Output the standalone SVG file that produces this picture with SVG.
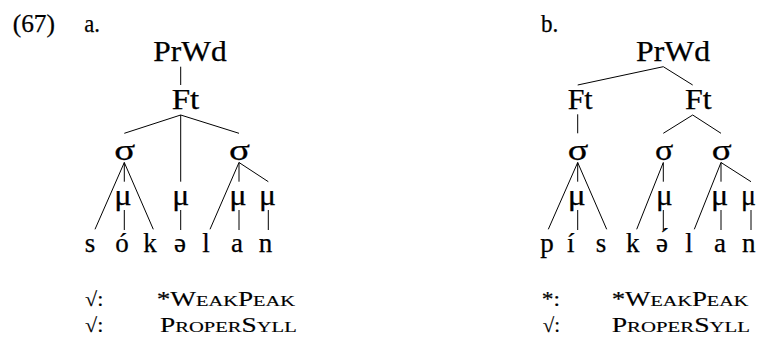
<svg xmlns="http://www.w3.org/2000/svg" width="757" height="345" viewBox="0 0 757 345">
<style>
text{font-family:"Liberation Serif","Times New Roman",serif;fill:#000;stroke:#000;stroke-width:0.25}
.num{font-size:25px}
.lbl{font-size:29px}
.syl{font-size:29px}
.mu{font-size:29px}
.seg{font-size:27px;text-anchor:middle}
.ev{font-size:20px;stroke-width:0.15}
.sc{font-size:15px}
#connectors line{stroke:#000;stroke-width:1;fill:none}
</style>
<rect width="757" height="345" fill="#fff"/>
<g id="labels">
<text class="num" x="12.7" y="31.5" textLength="42.3" lengthAdjust="spacingAndGlyphs">(67)</text>
<text class="num" x="84.3" y="31.5" textLength="15.7" lengthAdjust="spacingAndGlyphs">a.</text>
<text class="num" x="541" y="31.5" textLength="17.3" lengthAdjust="spacingAndGlyphs">b.</text>
</g>
<g id="connectors">
<line x1="180.7" y1="66.7" x2="180.7" y2="85"/>
<line x1="180.7" y1="115" x2="124.3" y2="133.3"/>
<line x1="180.7" y1="115" x2="239" y2="133.3"/>
<line x1="180.7" y1="115" x2="180.7" y2="181.7"/>
<line x1="124.3" y1="162.5" x2="95" y2="229.3"/>
<line x1="124.3" y1="162.5" x2="124.3" y2="181.7"/>
<line x1="124.3" y1="162.5" x2="153.3" y2="229.3"/>
<line x1="124.3" y1="210" x2="124.3" y2="230"/>
<line x1="180.7" y1="210" x2="180.7" y2="230"/>
<line x1="239" y1="162.5" x2="210" y2="229.3"/>
<line x1="239" y1="162.5" x2="239" y2="181.7"/>
<line x1="239" y1="162.5" x2="268.3" y2="181.7"/>
<line x1="239" y1="210" x2="239" y2="230"/>
<line x1="268.3" y1="210" x2="268.3" y2="230"/>
<line x1="663.3" y1="66.7" x2="577.7" y2="85"/>
<line x1="663.3" y1="66.7" x2="692.7" y2="85"/>
<line x1="577.7" y1="114.3" x2="577.7" y2="133.3"/>
<line x1="692.7" y1="115" x2="663.3" y2="133.3"/>
<line x1="692.7" y1="115" x2="721" y2="133.3"/>
<line x1="577.7" y1="162.5" x2="548.3" y2="229.3"/>
<line x1="577.7" y1="162.5" x2="577.7" y2="181.7"/>
<line x1="577.7" y1="162.5" x2="606.7" y2="229.3"/>
<line x1="577.7" y1="210" x2="577.7" y2="230"/>
<line x1="663.3" y1="162.5" x2="636.7" y2="229.3"/>
<line x1="663.3" y1="162.5" x2="663.3" y2="181.7"/>
<line x1="663.3" y1="210" x2="663.3" y2="230"/>
<line x1="721" y1="162.5" x2="694.3" y2="229.3"/>
<line x1="721" y1="162.5" x2="721" y2="181.7"/>
<line x1="721" y1="162.5" x2="751" y2="181.7"/>
<line x1="721" y1="210" x2="721" y2="230"/>
<line x1="751" y1="210" x2="751" y2="230"/>
</g>
<g id="a-prwd"><text class="lbl" x="153.3" y="61" textLength="73.4" lengthAdjust="spacingAndGlyphs">PrWd</text></g>
<g id="a-ft"><text class="lbl" x="171.7" y="109.3" textLength="27.6" lengthAdjust="spacingAndGlyphs">Ft</text></g>
<g id="a-syl1"><text class="syl" x="114.3" y="160" textLength="21" lengthAdjust="spacingAndGlyphs">σ</text></g>
<g id="a-syl2"><text class="syl" x="229" y="160" textLength="21" lengthAdjust="spacingAndGlyphs">σ</text></g>
<g id="a-mu1"><text class="mu" x="114.3" y="205" textLength="17.4" lengthAdjust="spacingAndGlyphs">μ</text></g>
<g id="a-mu2"><text class="mu" x="172.3" y="205" textLength="17" lengthAdjust="spacingAndGlyphs">μ</text></g>
<g id="a-mu3"><text class="mu" x="229.3" y="205" textLength="17.4" lengthAdjust="spacingAndGlyphs">μ</text></g>
<g id="a-mu4"><text class="mu" x="259" y="205" textLength="17" lengthAdjust="spacingAndGlyphs">μ</text></g>
<g id="a-s"><text class="seg" x="90" y="251.7">s</text></g>
<g id="a-o"><text class="seg" x="122" y="251.7">ó</text></g>
<g id="a-k"><text class="seg" x="150" y="251.7">k</text></g>
<g id="a-schwa"><text class="seg" x="180" y="251.7">ə</text></g>
<g id="a-l"><text class="seg" x="206" y="251.7">l</text></g>
<g id="a-a"><text class="seg" x="237" y="251.7">a</text></g>
<g id="a-n"><text class="seg" x="265.5" y="251.7">n</text></g>
<g id="b-prwd"><text class="lbl" x="636" y="61" textLength="74" lengthAdjust="spacingAndGlyphs">PrWd</text></g>
<g id="b-ft1"><text class="lbl" x="567.7" y="109.3" textLength="25" lengthAdjust="spacingAndGlyphs">Ft</text></g>
<g id="b-ft2"><text class="lbl" x="685" y="109.3" textLength="26.7" lengthAdjust="spacingAndGlyphs">Ft</text></g>
<g id="b-syl1"><text class="syl" x="567.7" y="160" textLength="20.6" lengthAdjust="spacingAndGlyphs">σ</text></g>
<g id="b-syl2"><text class="syl" x="655" y="160" textLength="18.3" lengthAdjust="spacingAndGlyphs">σ</text></g>
<g id="b-syl3"><text class="syl" x="711.7" y="160" textLength="20" lengthAdjust="spacingAndGlyphs">σ</text></g>
<g id="b-mu1"><text class="mu" x="567.7" y="205" textLength="18" lengthAdjust="spacingAndGlyphs">μ</text></g>
<g id="b-mu2"><text class="mu" x="656" y="205" textLength="16.7" lengthAdjust="spacingAndGlyphs">μ</text></g>
<g id="b-mu3"><text class="mu" x="711" y="205" textLength="17.3" lengthAdjust="spacingAndGlyphs">μ</text></g>
<g id="b-mu4"><text class="mu" x="741" y="205" textLength="15" lengthAdjust="spacingAndGlyphs">μ</text></g>
<g id="b-p"><text class="seg" x="547" y="251.7">p</text></g>
<g id="b-i"><text class="seg" x="570.7" y="251.7">í</text></g>
<g id="b-s"><text class="seg" x="601" y="251.7">s</text></g>
<g id="b-k"><text class="seg" x="632.7" y="251.7">k</text></g>
<g id="b-schwa"><text class="seg" x="662" y="251.7">ə́</text></g>
<g id="b-l"><text class="seg" x="689" y="251.7">l</text></g>
<g id="b-a"><text class="seg" x="720" y="251.7">a</text></g>
<g id="b-n"><text class="seg" x="748.7" y="251.7">n</text></g>
<g id="evaluation">
<text class="ev" x="85" y="306" textLength="18.3" lengthAdjust="spacingAndGlyphs">√:</text>
<text class="ev" x="156.7" y="306" textLength="138.3" lengthAdjust="spacingAndGlyphs">*W<tspan class="sc">EAK</tspan>P<tspan class="sc">EAK</tspan></text>
<text class="ev" x="85" y="332" textLength="18.3" lengthAdjust="spacingAndGlyphs">√:</text>
<text class="ev" x="160" y="332" textLength="136.7" lengthAdjust="spacingAndGlyphs">P<tspan class="sc">ROPER</tspan>S<tspan class="sc">YLL</tspan></text>
<text class="ev" x="541.7" y="306" textLength="18.3" lengthAdjust="spacingAndGlyphs">*:</text>
<text class="ev" x="611.7" y="306" textLength="136.6" lengthAdjust="spacingAndGlyphs">*W<tspan class="sc">EAK</tspan>P<tspan class="sc">EAK</tspan></text>
<text class="ev" x="542.7" y="332" textLength="17.3" lengthAdjust="spacingAndGlyphs">√:</text>
<text class="ev" x="611.7" y="332" textLength="138.3" lengthAdjust="spacingAndGlyphs">P<tspan class="sc">ROPER</tspan>S<tspan class="sc">YLL</tspan></text>
</g>
</svg>
